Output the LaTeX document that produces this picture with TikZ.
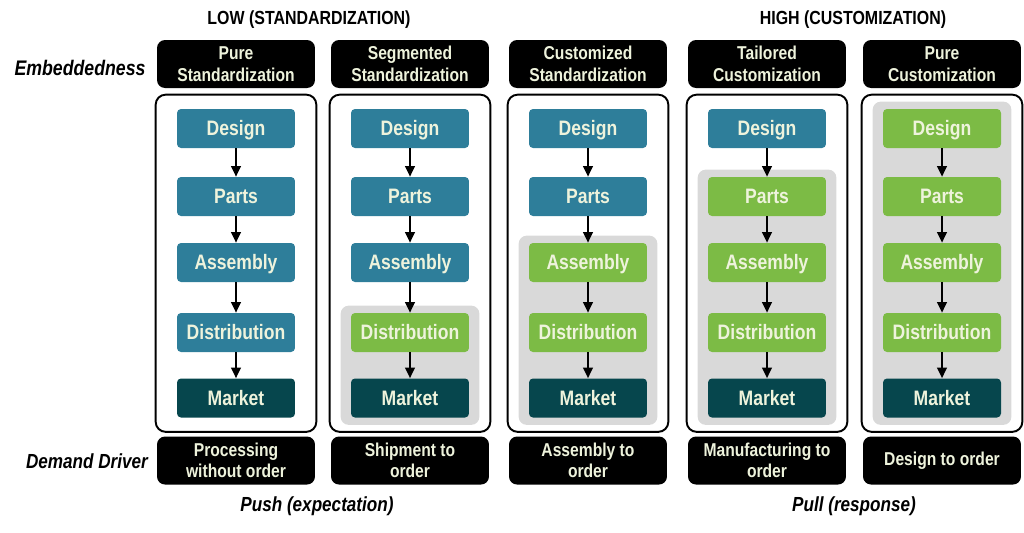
\documentclass[tikz,border=0pt]{standalone}
\usepackage{fontspec}
\setmainfont{Liberation Sans}[FakeStretch=0.84]
\usetikzlibrary{arrows.meta,fit,backgrounds}
\definecolor{cblue}{HTML}{2E7E9A}
\definecolor{cgreen}{HTML}{7CBB45}
\definecolor{cdark}{HTML}{06464D}
\definecolor{cgray}{HTML}{D9D9D9}
\definecolor{ctext}{HTML}{EEF3DC}
\tikzset{
  proc/.style={rounded corners=0.08cm, minimum width=2.36cm, minimum height=0.78cm, inner sep=0pt,
    text height=8.5pt, text depth=0pt,
    text=ctext, font=\fontsize{11.9}{13}\selectfont\bfseries},
  hdr/.style={fill=black, rounded corners=0.16cm, minimum width=3.16cm, minimum height=0.96cm, inner sep=0pt,
    text=ctext, align=center, font=\fontsize{10.6}{12.2}\selectfont\bfseries},
  outerbox/.style={draw=black, line width=1.1pt, rounded corners=0.2cm, inner xsep=0.42cm, inner ysep=0.28cm},
  graybg/.style={fill=cgray, rounded corners=0.16cm, inner xsep=0.2cm, inner ysep=0.14cm},
  arr/.style={-{Triangle[length=6pt,width=5.5pt]}, line width=1.1pt, black},
  lbl/.style={font=\fontsize{11.6}{13}\selectfont\bfseries\itshape},
  ttl/.style={font=\fontsize{10.8}{13}\selectfont\bfseries}
}
\begin{document}
\begin{tikzpicture}[x=0.02cm, y=-0.02cm]
\useasboundingbox (0,0) rectangle (1024,532);
\node[ttl] (tlow) at (309,20) {LOW (STANDARDIZATION)};
\node[ttl] (thigh) at (853,20) {HIGH (CUSTOMIZATION)};
\node[lbl, font=\fontsize{12}{13}\selectfont\bfseries\itshape] (emb) at (80,68) {Embeddedness};
\node[lbl] (dd) at (87,461) {Demand Driver};
\node[lbl] (push) at (317,506) {Push (expectation)};
\node[lbl] (pull) at (854,506) {Pull (response)};

\node[hdr] (h1) at (236,64) {Pure\\Standardization};
\node[hdr] (h2) at (410,64) {Segmented\\Standardization};
\node[hdr] (h3) at (588,64) {Customized\\Standardization};
\node[hdr] (h4) at (767,64) {Tailored\\Customization};
\node[hdr] (h5) at (942,64) {Pure\\Customization};

\node[hdr] (q1) at (236,460.5) {Processing\\without order};
\node[hdr] (q2) at (410,460.5) {Shipment to\\order};
\node[hdr] (q3) at (588,460.5) {Assembly to\\order};
\node[hdr] (q4) at (767,460.5) {Manufacturing to\\order};
\node[hdr] (q5) at (942,460.5) {Design to order};

\foreach \i/\cx/\s in {1/236/6,2/410/4,3/588/3,4/767/2,5/942/1}{
  \foreach \r/\ry/\t in {1/128.5/Design,2/196.5/Parts,3/262.5/Assembly,4/332.5/Distribution}{
    \ifnum\r<\s \def\fc{cblue}\else\def\fc{cgreen}\fi
    \node[proc, fill=\fc] (n\i-\r) at (\cx,\ry) {\t};
  }
  \node[proc, fill=cdark] (n\i-5) at (\cx,398) {Market};
  \foreach \r [evaluate=\r as \nx using int(\r+1)] in {1,...,4}
    \draw[arr] (n\i-\r) -- (n\i-\nx);
  \begin{scope}[on background layer]
    \node[outerbox, fit=(n\i-1)(n\i-5)] (o\i) {};
    \ifnum\s<6
      \node[graybg, fit=(n\i-\s)(n\i-5)] (g\i) {};
    \fi
  \end{scope}
}
\end{tikzpicture}
\end{document}
